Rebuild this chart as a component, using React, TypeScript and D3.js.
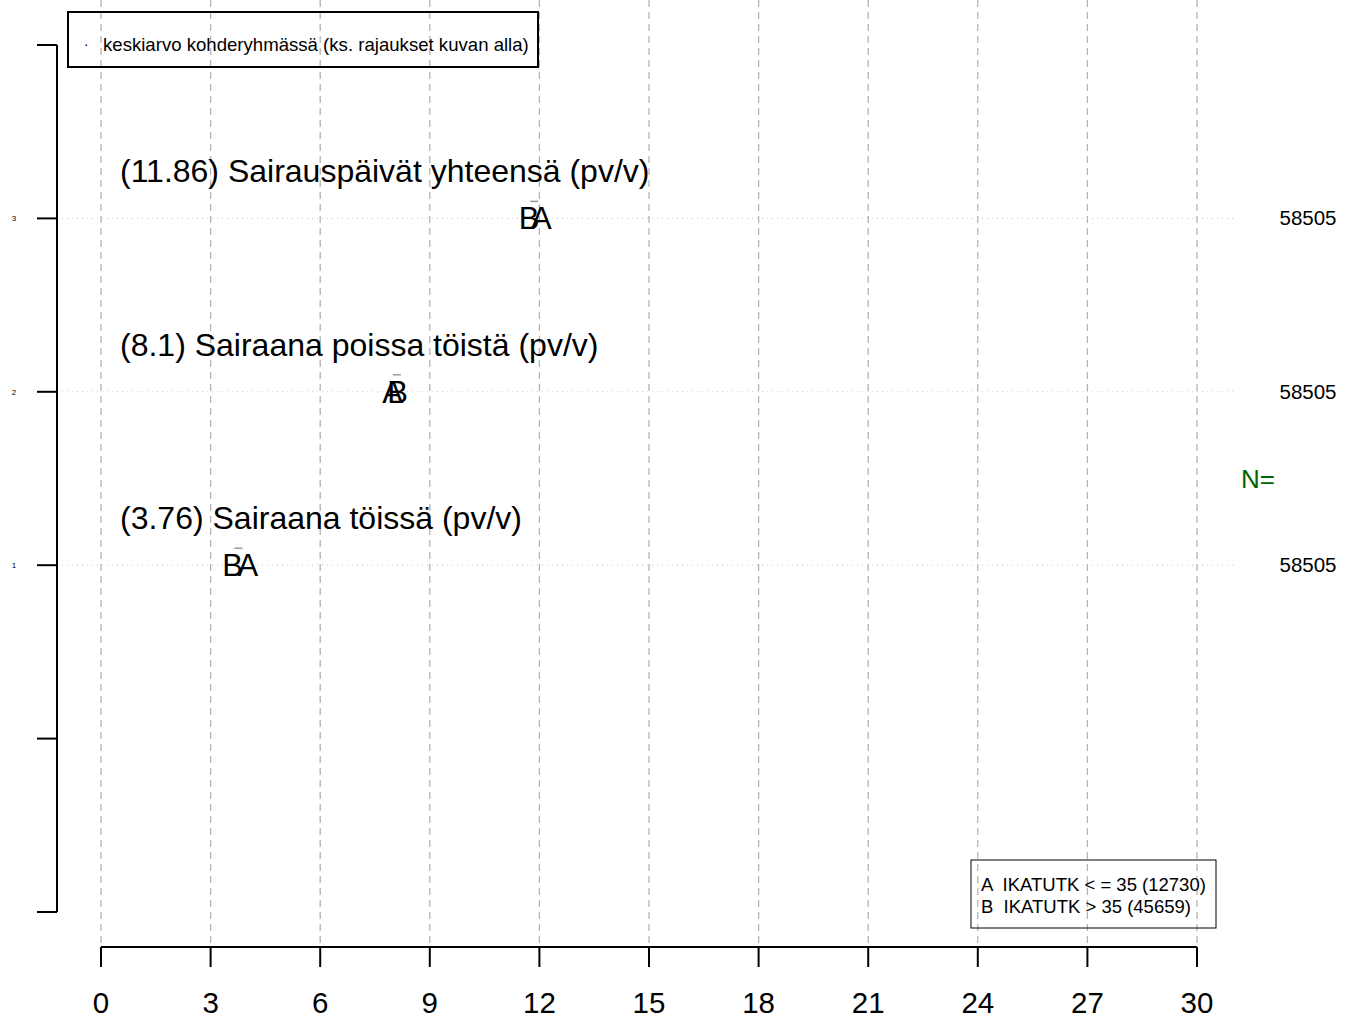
import React from "react";
import * as d3 from "d3";

const rowLabels = [
  "(3.76) Sairaana töissä (pv/v)",
  "(8.1) Sairaana poissa töistä (pv/v)",
  "(11.86) Sairauspäivät yhteensä (pv/v)",
];
const rowPos = [1, 2, 3];
const meanValues = [3.76, 8.1, 11.86];
const groupA = [4.02, 7.98, 12.05];
const groupB = [3.6, 8.12, 11.72];
const nValues = [58505, 58505, 58505];
const xTicks = [0, 3, 6, 9, 12, 15, 18, 21, 24, 27, 30];
const yTicks = [-1, 0, 1, 2, 3, 4];
const yTickLabels = ["", "", "1", "2", "3", ""];
const legendTop = "keskiarvo kohderyhmässä (ks. rajaukset kuvan alla)";
const legendGroups = ["A  IKATUTK < = 35 (12730)", "B  IKATUTK > 35 (45659)"];

const W = 1353;
const H = 1020;
const FONT = "'Liberation Sans', Arial, sans-serif";

export default function App() {
  const x = d3.scaleLinear().domain([0, 30]).range([101, 1197]);
  const y = d3.scaleLinear().domain([-1, 4]).range([912, 45]);

  return (
    <svg
      width={W}
      height={H}
      style={{ position: "absolute", left: 0, top: 0, background: "#fff" }}
      fontFamily={FONT}
    >
      {/* vertical grid */}
      {xTicks.map((t) => (
        <line
          key={"g" + t}
          x1={x(t)}
          x2={x(t)}
          y1={0}
          y2={945}
          stroke="#b3b3b3"
          strokeWidth={1.3}
          strokeDasharray="7,5"
        />
      ))}
      {/* horizontal dotted lines */}
      {rowPos.map((r) => (
        <line
          key={"h" + r}
          x1={57}
          x2={1237}
          y1={y(r)}
          y2={y(r)}
          stroke="#c8c8c8"
          strokeWidth={1}
          strokeDasharray="1,4"
        />
      ))}
      {/* y axis */}
      <line x1={57} x2={57} y1={y(4)} y2={y(-1)} stroke="#000" strokeWidth={2} />
      {yTicks.map((t, i) => (
        <g key={"yt" + t}>
          <line x1={37} x2={57} y1={y(t)} y2={y(t)} stroke="#000" strokeWidth={2} />
          <text x={14} y={y(t) + 3} fontSize={8} textAnchor="middle" fill="#000">
            {yTickLabels[i]}
          </text>
        </g>
      ))}
      {/* x axis */}
      <line x1={x(0)} x2={x(30)} y1={947} y2={947} stroke="#000" strokeWidth={2} />
      {xTicks.map((t) => (
        <g key={"xt" + t}>
          <line x1={x(t)} x2={x(t)} y1={947} y2={967} stroke="#000" strokeWidth={2} />
          <text x={x(t)} y={1013} fontSize={29.5} textAnchor="middle" fill="#000">
            {t}
          </text>
        </g>
      ))}
      {/* row labels */}
      {rowPos.map((r, i) => (
        <text key={"rl" + r} x={120} y={y(r) - 36} fontSize={32} fill="#000">
          {rowLabels[i]}
        </text>
      ))}
      {/* markers */}
      {rowPos.map((r, i) => (
        <g key={"m" + r}>
          <line
            x1={x(meanValues[i]) - 4}
            x2={x(meanValues[i]) + 4}
            y1={y(r) - 17}
            y2={y(r) - 17}
            stroke="#999"
            strokeWidth={1.5}
          />
          <text x={x(groupB[i])} y={y(r) + 11} fontSize={31} textAnchor="middle" fill="#000">
            B
          </text>
          <text x={x(groupA[i])} y={y(r) + 11} fontSize={31} textAnchor="middle" fill="#000">
            A
          </text>
          <text x={1308} y={y(r) + 7} fontSize={20.5} textAnchor="middle" fill="#000">
            {nValues[i]}
          </text>
        </g>
      ))}
      <text x={1258} y={488} fontSize={26} textAnchor="middle" fill="#006400">
        N=
      </text>
      {/* top legend */}
      <rect x={68} y={12} width={470} height={55} fill="none" stroke="#000" strokeWidth={2} />
      <rect x={85.5} y={44.5} width={1.5} height={1.5} fill="#00008b" />
      <text x={103} y={51} fontSize={18.6} fill="#000">
        {legendTop}
      </text>
      {/* bottom legend */}
      <rect x={971} y={860} width={245} height={68} fill="none" stroke="#000" strokeWidth={1} />
      {legendGroups.map((g, i) => (
        <text
          key={"lg" + i}
          x={981}
          y={891 + i * 22}
          fontSize={18.5}
          fill="#000"
          style={{ whiteSpace: "pre" }}
        >
          {g}
        </text>
      ))}
    </svg>
  );
}
